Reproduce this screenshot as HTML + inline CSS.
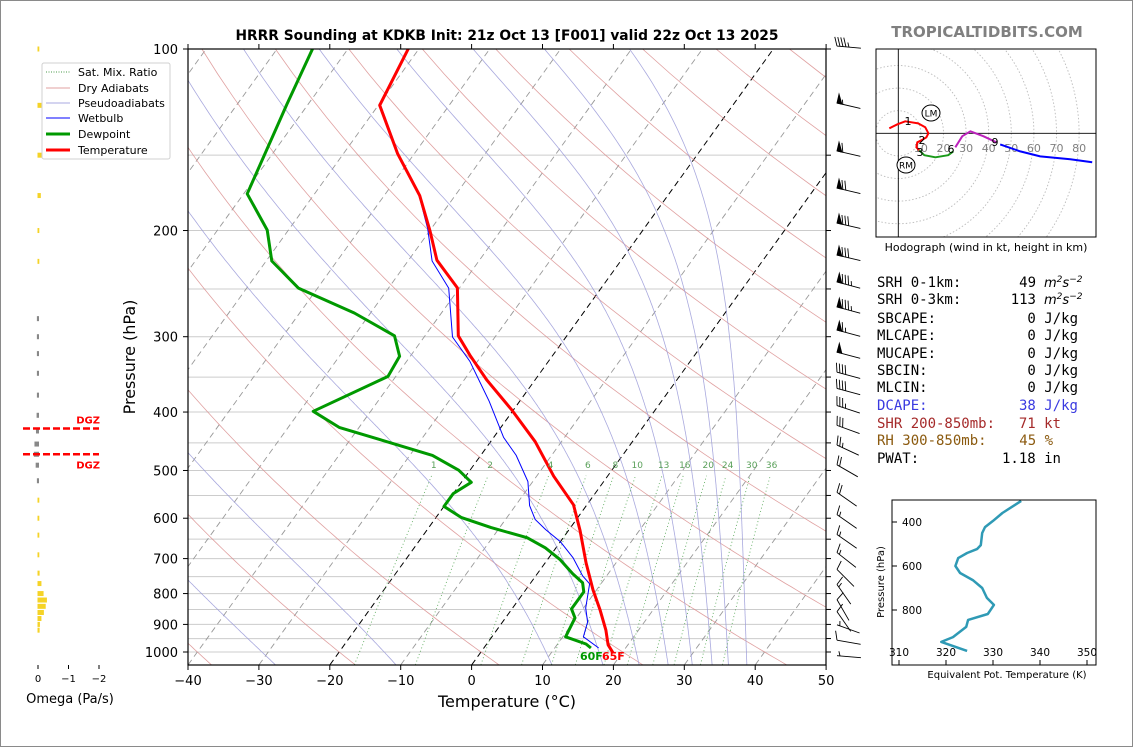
<!DOCTYPE html>
<html><head><meta charset="utf-8">
<style>
html,body{margin:0;padding:0;background:#fff;}
svg{display:block;font-family:"DejaVu Sans","Liberation Sans",sans-serif;}
.mono{font-family:"DejaVu Sans Mono","Liberation Mono",monospace;}
</style></head>
<body>
<svg id="chart" width="1134" height="748" viewBox="0 0 1134 748" xmlns="http://www.w3.org/2000/svg">
<defs>
<clipPath id="clipMain"><rect x="188" y="49" width="638" height="616"/></clipPath>
<clipPath id="clipHodo"><rect x="876" y="49" width="220" height="188"/></clipPath>
<clipPath id="clipTe"><rect x="892" y="500" width="204" height="165"/></clipPath>
</defs>
<rect x="0.5" y="0.5" width="1132" height="746" fill="#fff" stroke="#8a8a8a"/>
<text x="507" y="40" text-anchor="middle" font-size="13.8" font-weight="bold">HRRR Sounding at KDKB Init: 21z Oct 13 [F001] valid 22z Oct 13 2025</text>
<text x="987" y="37" text-anchor="middle" font-size="15" font-weight="bold" fill="#808080">TROPICALTIDBITS.COM</text>

<g id="gridLayer" clip-path="url(#clipMain)"></g>
<g id="dataLayer" clip-path="url(#clipMain)"></g>
<g id="mrLabels"></g>
<rect x="188" y="49" width="638" height="616" fill="none" stroke="#000" stroke-width="1.2"/>
<g id="axisLayer"></g>
<text x="507" y="707" text-anchor="middle" font-size="16">Temperature (°C)</text>
<text transform="translate(135,357) rotate(-90)" text-anchor="middle" font-size="16">Pressure (hPa)</text>
<text x="580" y="660" font-size="11" font-weight="bold" fill="#009900">60F</text>
<text x="602" y="660" font-size="11" font-weight="bold" fill="#ff0000">65F</text>

<g id="barbLayer"></g>
<g id="omegaLayer"></g>
<text x="70" y="703" text-anchor="middle" font-size="13">Omega (Pa/s)</text>

<g>
<rect x="42" y="63" width="128" height="96" rx="2" fill="#fff" fill-opacity="0.85" stroke="#d0d0d0"/>
<line x1="46" y1="72" x2="70" y2="72" stroke="#4a9a4a" stroke-dasharray="1,1.5" stroke-width="1"/>
<text x="78" y="76" font-size="11">Sat. Mix. Ratio</text>
<line x1="46" y1="88" x2="70" y2="88" stroke="#e0a0a0" stroke-width="1"/>
<text x="78" y="92" font-size="11">Dry Adiabats</text>
<line x1="46" y1="103" x2="70" y2="103" stroke="#a8a8e0" stroke-width="1"/>
<text x="78" y="107" font-size="11">Pseudoadiabats</text>
<line x1="46" y1="118" x2="70" y2="118" stroke="#0000ff" stroke-width="1"/>
<text x="78" y="122" font-size="11">Wetbulb</text>
<line x1="46" y1="134" x2="70" y2="134" stroke="#009900" stroke-width="3"/>
<text x="78" y="138" font-size="11">Dewpoint</text>
<line x1="46" y1="150" x2="70" y2="150" stroke="#ff0000" stroke-width="3"/>
<text x="78" y="154" font-size="11">Temperature</text>
</g>

<!-- Hodograph -->
<g id="hodoLayer" clip-path="url(#clipHodo)"></g>
<rect x="876" y="49" width="220" height="188" fill="none" stroke="#000"/>
<text x="986" y="251" text-anchor="middle" font-size="11">Hodograph (wind in kt, height in km)</text>

<!-- Stats -->
<g class="mono" font-size="14">
<text x="877" y="287">SRH 0-1km:</text>
<text x="1036" y="287" text-anchor="end">49</text>
<text x="1044" y="287" font-family="DejaVu Sans" font-style="italic" font-size="13">m<tspan dy="-5" font-size="9">2</tspan><tspan dy="5">s</tspan><tspan dy="-5" font-size="9">−2</tspan></text>
<text x="877" y="304">SRH 0-3km:</text>
<text x="1036" y="304" text-anchor="end">113</text>
<text x="1044" y="304" font-family="DejaVu Sans" font-style="italic" font-size="13">m<tspan dy="-5" font-size="9">2</tspan><tspan dy="5">s</tspan><tspan dy="-5" font-size="9">−2</tspan></text>
<text x="877" y="323">SBCAPE:</text><text x="1078" y="323" text-anchor="end">0 J/kg</text>
<text x="877" y="340">MLCAPE:</text><text x="1078" y="340" text-anchor="end">0 J/kg</text>
<text x="877" y="358">MUCAPE:</text><text x="1078" y="358" text-anchor="end">0 J/kg</text>
<text x="877" y="375">SBCIN:</text><text x="1078" y="375" text-anchor="end">0 J/kg</text>
<text x="877" y="392">MLCIN:</text><text x="1078" y="392" text-anchor="end">0 J/kg</text>
<text x="877" y="410" fill="#3a3ae0">DCAPE:</text><text x="1078" y="410" text-anchor="end" fill="#3a3ae0">38 J/kg</text>
<text x="877" y="428" fill="#a52a2a">SHR 200-850mb:</text><text x="1061" y="428" text-anchor="end" fill="#a52a2a">71 kt</text>
<text x="877" y="445" fill="#8b5a0f">RH 300-850mb:</text><text x="1053" y="445" text-anchor="end" fill="#8b5a0f">45 %</text>
<text x="877" y="463">PWAT:</text><text x="1061" y="463" text-anchor="end">1.18 in</text>
</g>

<!-- Theta-e panel -->
<g id="teLayer"></g>
<rect x="892" y="500" width="204" height="165" fill="none" stroke="#000"/>
<text x="1007" y="678" text-anchor="middle" font-size="10">Equivalent Pot. Temperature (K)</text>
<text transform="translate(884,582) rotate(-90)" text-anchor="middle" font-size="10">Pressure (hPa)</text>

<script>
// ---------- Data ----------
const tempP = [100,124,149,175,200,224,249,299,322,354,397,448,511,570,628,712,789,851,920,973,1005];
const tempC = [-71.5,-69.8,-62.4,-55.0,-50.0,-46.0,-40.3,-35.3,-31.7,-26.8,-20.2,-13.7,-7.6,-1.9,1.6,5.8,9.5,12.5,15.4,17.2,18.8];
const dewP = [100,123.5,173.8,199.6,224.7,249.2,274,299,323.3,349.1,398.9,424.1,472,499.5,523.1,546.1,573.5,598.5,621.9,646.3,671.8,703,741.9,767.4,794.8,817.1,848.4,878,943.6,970,985];
const dewC = [-85.0,-83.0,-79.5,-73.0,-69.2,-62.7,-52.3,-44.3,-41.5,-41.1,-48.1,-42.8,-26.8,-21.6,-18.6,-20.0,-20.0,-16.4,-11.2,-5.1,-1.5,1.8,5.0,7.3,8.4,8.4,8.4,9.8,10.4,14.0,15.1];
const wbP = [124.5,150.8,173,198.6,224.7,249.2,300.3,329.4,383.9,440.7,472,521.5,571.8,603,626.6,656.2,697.5,747.6,770.8,845.2,891.8,943.6,985];
const wbC = [-69.5,-61.8,-55.5,-50.5,-46.6,-41.5,-36.0,-31.1,-24.3,-18.6,-15.0,-10.7,-8.0,-5.8,-3.3,0.0,3.4,6.6,8.4,10.3,12.0,12.9,16.2];
const xTicks = [-40,-30,-20,-10,0,10,20,30,40,50];
const yTicks = [100,200,300,400,500,600,700,800,900,1000];
const gridP = [100,150,200,250,300,350,400,450,500,550,600,650,700,750,800,850,900,950,1000];
const mixRatios = [1,2,4,6,8,10,13,16,20,24,30,36];
const moistStartC = [-27.7,-10.7,11.3,18.5,23.6,27.7,31.1,33.9,36.2,38.8];
// wind barbs
const barbP = [98.9,122.9,147.6,170.1,194.4,219.7,243.4,267.8,292.5,318.2,343.6,365.5,390.3,420.9,453.7,489.3,543.6,591.8,638.4,684.1,729.7,772.8,818.8,857.3,901.3,955.7,1014];
const barbSpd = [45,55,60,70,80,80,85,85,65,50,40,40,35,30,25,20,20,15,15,15,10,15,10,10,5,10,5];
const barbDir = [185,193,193,193,193,193,195,195,195,195,195,195,198,200,205,210,215,215,215,218,225,235,240,235,200,190,185];
// omega
const omegaP = [100,124,150,175,200,225,280,300,320,345,375,405,430,452,470,490,520,560,600,640,690,740,770,800,820,840,860,880,900,920];
const omegaVal = [-0.01,-0.08,-0.12,-0.06,-0.01,-0.01,0.02,0.02,0.02,0.02,0.02,0.03,0.05,0.1,0.12,0.06,0.02,-0.01,-0.01,-0.01,-0.01,-0.02,-0.08,-0.15,-0.26,-0.22,-0.16,-0.08,-0.03,-0.02];
const dgzP = [426,470];
// hodograph (kt)
const hodoU0 = [-4,-0.4,3.1,8.8,11.9,13.3,12.4,10.2,8.4,8.0,9.3];
const hodoV0 = [2.2,4.0,5.3,4.4,2.7,0,-1.8,-3.1,-4.0,-6.2,-7.5];
const hodoU1 = [9.3,11.5,16.4,22.1,24.3];
const hodoV1 = [-7.5,-9.7,-10.6,-9.7,-8.0];
const hodoU2 = [25.2,28.3,31.9,37.6,43.4];
const hodoV2 = [-6.2,-1.3,0.9,-1.3,-4.0];
const hodoU3 = [45.1,54.0,62.8,76.1,85.8];
const hodoV3 = [-4.9,-8.0,-10.2,-11.5,-12.8];
const hodoRings = [10,20,30,40,50,60,70,80];
// theta-e
const teP = [304,359,395,423,450,505,523,541,564,600,632,664,700,745,777,818,845,877,923,945,986];
const teK = [336,332,330,328.3,327.7,327.4,326.6,324.5,322.6,322,323,325.7,327.7,328.7,330.2,328.9,324.7,324.3,321.5,319,324.5];
const teXTicks = [310,320,330,340,350];
const teYTicks = [400,600,800];

// ---------- Helpers ----------
const NS = "http://www.w3.org/2000/svg";
function mk(tag, attrs, parent){const e=document.createElementNS(NS,tag);for(const k in attrs)e.setAttribute(k,attrs[k]);parent.appendChild(e);return e;}
function py(p){return 49+603*Math.log10(p/100);}
function tx(T,p){return 188+(T+40)*7.09+(665-py(p))*0.72;}
function pathFrom(ps,ts){return ps.map((p,i)=>(i?'L':'M')+tx(ts[i],p).toFixed(1)+','+py(p).toFixed(1)).join(' ');}
const grid=document.getElementById('gridLayer'), data=document.getElementById('dataLayer'), ax=document.getElementById('axisLayer');

gridP.forEach(p=>{
  const l=mk('line',{x1:188,x2:826,y1:py(p),y2:py(p),stroke:'#cccccc','stroke-width':1},grid);
  
  
});
for(let T=-140;T<=50;T+=10){
  const black=(T===-20||T===0);
  const l=mk('line',{x1:tx(T,1050),y1:py(1050),x2:tx(T,100),y2:py(100),stroke:black?'#000':'#999','stroke-width':black?1:0.9,'stroke-dasharray':'6,4'},grid);
  
  
}
for(let th=153.15;th<=533.15;th+=20){
  let d='';
  for(let p=1050;p>=100;p-=10){const T=th*Math.pow(p/1000,0.2857)-273.15;d+=(p===1050?'M':'L')+tx(T,p).toFixed(1)+','+py(p).toFixed(1);}
  const l=mk('path',{d:d,fill:'none',stroke:'#d88a8a','stroke-width':0.8,'stroke-opacity':0.8},grid);
  
  
}
function es(Tc){return 6.112*Math.exp(17.67*Tc/(Tc+243.5));}
moistStartC.forEach(t0=>{
  let T=t0+273.15, d='';
  for(let p=1050;p>=100;p-=2){
    d+=(p===1050?'M':'L')+tx(T-273.15,p).toFixed(1)+','+py(p).toFixed(1);
    const e=es(T-273.15), rs=0.622*e/(p-e);
    const dTdp=(287.04*T+2.501e6*rs)/(1005.7+(2.501e6*2.501e6*rs*0.622)/(287.04*T*T))/p;
    T-=dTdp*2;
  }
  const l=mk('path',{d:d,fill:'none',stroke:'#9a9ad8','stroke-width':0.8,'stroke-opacity':0.85},grid);
  
  
});
const mrl=document.getElementById('mrLabels');
mixRatios.forEach(w=>{
  let d='';
  for(let p=1050;p>=505;p-=15){const e=w*p/(622+w),a=Math.log(e/6.112),Td=243.5*a/(17.67-a);d+=(p===1050?'M':'L')+tx(Td,p).toFixed(1)+','+py(p).toFixed(1);}
  const l=mk('path',{d:d,fill:'none',stroke:'#3c9a3c','stroke-width':0.9,'stroke-dasharray':'1,2.5','stroke-opacity':0.8},grid);
  
  
  const e=w*500/(622+w),a=Math.log(e/6.112),Td=243.5*a/(17.67-a);
  const t=mk('text',{x:tx(Td,500).toFixed(1),y:468,'text-anchor':'middle','font-size':9,fill:'#5aa05a'},mrl);
  t.textContent=w;
  
  
});
let l;
l=mk('path',{d:pathFrom(wbP,wbC),fill:'none',stroke:'#0000ff','stroke-width':1},data);


l=mk('path',{d:pathFrom(dewP,dewC),fill:'none',stroke:'#009900','stroke-width':3,'stroke-linejoin':'round'},data);


l=mk('path',{d:pathFrom(tempP,tempC),fill:'none',stroke:'#ff0000','stroke-width':3,'stroke-linejoin':'round'},data);



xTicks.forEach(T=>{
  const x=188+(T+40)*7.09;
  let t=mk('line',{x1:x,x2:x,y1:665,y2:670,stroke:'#000'},ax);
  
  
  t=mk('line',{x1:x,x2:x,y1:44,y2:49,stroke:'#000'},ax);
  
  
  const lb=mk('text',{x:x,y:685,'text-anchor':'middle','font-size':13},ax);
  lb.textContent=(T<0?'−':'')+Math.abs(T);
  
  
});
gridP.forEach(p=>{
  const t=mk('line',{x1:826,x2:831,y1:py(p),y2:py(p),stroke:'#000'},ax);
  
  
});
yTicks.forEach(p=>{
  const t=mk('line',{x1:183,x2:188,y1:py(p),y2:py(p),stroke:'#000'},ax);
  
  
  const lb=mk('text',{x:178,y:py(p)+5,'text-anchor':'end','font-size':13},ax);
  lb.textContent=p;
  
  
});

// wind barbs
const bl=document.getElementById('barbLayer');
barbP.forEach((p,i)=>{
  const a=barbDir[i]*Math.PI/180;
  const sx=Math.cos(a), sy=Math.sin(a), L=24;
  const tipx=837, tipy=py(p);
  const bx=tipx-sx*L, by=tipy-sy*L;
  const px=-sy, pyy=sx;
  const g=mk('g',{stroke:'#000','stroke-width':0.9,fill:'#000'},bl);
  
  
  mk('line',{x1:bx,y1:by,x2:tipx,y2:tipy},g);
  let s=Math.round(barbSpd[i]/5)*5, pos=0;
  const step=3;
  while(s>=50){
    const x0=tipx-sx*pos,y0=tipy-sy*pos,x1=tipx-sx*(pos+5),y1=tipy-sy*(pos+5);
    mk('polygon',{points:`${x0},${y0} ${x1},${y1} ${x0+px*9},${y0+pyy*9}`},g);
    pos+=6; s-=50;
  }
  while(s>=10){
    const x0=tipx-sx*pos,y0=tipy-sy*pos;
    mk('line',{x1:x0,y1:y0,x2:x0+px*9+sx*3,y2:y0+pyy*9+sy*3},g);
    pos+=step; s-=10;
  }
  if(s>=5){
    if(pos===0)pos=step;
    const x0=tipx-sx*pos,y0=tipy-sy*pos;
    mk('line',{x1:x0,y1:y0,x2:x0+px*4.5+sx*1.5,y2:y0+pyy*4.5+sy*1.5},g);
  }
});

// omega panel
const om=document.getElementById('omegaLayer');
function ox(v){return 38-v*30.5;}
omegaP.forEach((p,i)=>{
  const v=omegaVal[i], x0=ox(0), x1=ox(v);
  const r=mk('rect',{x:Math.min(x0,x1)-0.5,y:py(p)-2.5,width:Math.abs(x1-x0)+1.5,height:5,fill:v<0?'#f5d327':'#888888'},om);
  
  
});
dgzP.forEach((p,i)=>{
  const y=py(p);
  const d=mk('line',{x1:23,x2:99,y1:y,y2:y,stroke:'#ff0000','stroke-width':2.5,'stroke-dasharray':'7,3'},om);
  
  
  const t=mk('text',{x:100,y:i===0?y-5:y+14,'text-anchor':'end','font-size':10,'font-weight':'bold',fill:'#ff0000'},om);
  t.textContent='DGZ';
  
  
});
[0,-1,-2].forEach(v=>{
  const t=mk('line',{x1:ox(v),x2:ox(v),y1:665,y2:669,stroke:'#000'},om);
  
  
  const lb=mk('text',{x:ox(v),y:682,'text-anchor':'middle','font-size':10},om);
  lb.textContent=v===0?'0':'−'+Math.abs(v);
  
  
});

// hodograph
const hd=document.getElementById('hodoLayer');
const hcx=898.3, hcy=133.3, hs=2.26;
hodoRings.forEach(r=>{
  const c=mk('circle',{cx:hcx,cy:hcy,r:r*hs,fill:'none',stroke:'#bbbbbb','stroke-width':0.9,'stroke-dasharray':'1.5,2'},hd);
  
  
});
l=mk('line',{x1:876,x2:1096,y1:hcy,y2:hcy,stroke:'#000','stroke-width':0.9},hd);


l=mk('line',{x1:hcx,x2:hcx,y1:49,y2:237,stroke:'#000','stroke-width':0.9},hd);


hodoRings.forEach(r=>{
  const t=mk('text',{x:hcx+r*hs,y:152,'text-anchor':'middle','font-size':11,fill:'#808080'},hd);
  t.textContent=r;
  
  
});
function hpath(us,vs){return us.map((u,i)=>(i?'L':'M')+(hcx+u*hs).toFixed(1)+','+(hcy-vs[i]*hs).toFixed(1)).join(' ');}
[[hodoU0,hodoV0,'#ff0000','hodograph-0-3km'],[hodoU1,hodoV1,'#1a9a1a','hodograph-3-6km'],[hodoU2,hodoV2,'#bb22bb','hodograph-6-9km'],[hodoU3,hodoV3,'#0000ff','hodograph-9km-plus']].forEach(s=>{
  const pth=mk('path',{d:hpath(s[0],s[1]),fill:'none',stroke:s[2],'stroke-width':2,'stroke-linejoin':'round'},hd);
  
  
});
[['LM',931,113],['RM',906,165]].forEach(m=>{
  const c=mk('ellipse',{cx:m[1],cy:m[2],rx:9,ry:8,fill:'#fff',stroke:'#000','stroke-width':1},hd);
  
  
  const t=mk('text',{x:m[1],y:m[2]+3.5,'text-anchor':'middle','font-size':9},hd);
  t.textContent=m[0];
  
  
});
[['1',908,125],['2',922,144],['3',920,156],['6',951,153],['9',995,146]].forEach(m=>{
  const t=mk('text',{x:m[1],y:m[2],'text-anchor':'middle','font-size':11},hd);
  t.textContent=m[0];
  
  
});

// theta-e panel
const te=document.getElementById('teLayer');
function tex(k){return 899+(k-310)*4.7;}
function tey(p){return 522+(p-400)*0.22;}
const tp=mk('path',{d:teP.map((p,i)=>(i?'L':'M')+tex(teK[i]).toFixed(1)+','+tey(p).toFixed(1)).join(' '),fill:'none',stroke:'#2f9ab5','stroke-width':2.5,'stroke-linejoin':'round','clip-path':'url(#clipTe)'},te);


teXTicks.forEach(k=>{
  const t=mk('line',{x1:tex(k),x2:tex(k),y1:660,y2:665,stroke:'#000'},te);
  
  
  const lb=mk('text',{x:tex(k),y:656,'text-anchor':'middle','font-size':10.5},te);
  lb.textContent=k;
  
  
});
teYTicks.forEach(p=>{
  const t=mk('line',{x1:892,x2:897,y1:tey(p),y2:tey(p),stroke:'#000'},te);
  
  
  const lb=mk('text',{x:902,y:tey(p)+4,'font-size':10.5},te);
  lb.textContent=p;
  
  
});
</script>
</svg>
</body></html>
